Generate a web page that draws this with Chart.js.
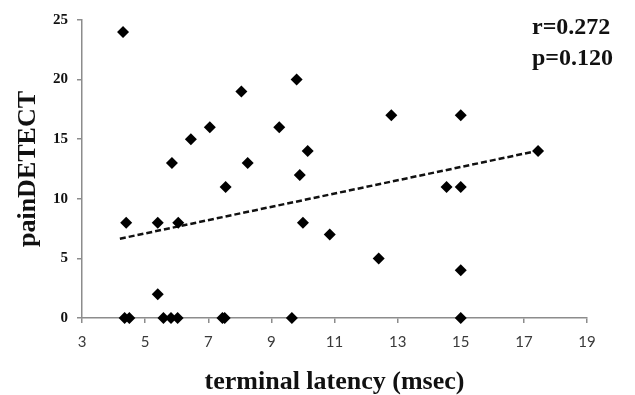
<!DOCTYPE html>
<html>
<head>
<meta charset="utf-8">
<script src="https://cdn.jsdelivr.net/npm/chart.js@4"></script>
<style>
  html, body { margin: 0; padding: 0; background: #fff; }
  #wrap { width: 635px; height: 395px; position: relative; }
</style>
</head>
<body>
<div id="wrap"><canvas id="c" width="635" height="395"></canvas></div>
<script>
// terminal latency (msec)
const latency = [4.3, 4.4, 4.35, 4.5, 5.4, 5.4, 5.58, 5.82, 5.85, 6.03, 6.05, 6.45, 7.05, 7.45, 7.52, 7.55, 8.05, 8.25, 9.25, 9.65, 9.8, 9.9, 10.0, 10.15, 10.85, 12.4, 12.8, 14.55, 15.0, 15.0, 15.0, 15.0, 17.45];
// painDETECT score
const painDetect = [24, 8, 0, 0, 8, 2, 0, 0, 13, 0, 8, 15, 16, 0, 0, 11, 19, 13, 16, 0, 20, 12, 8, 14, 7, 5, 17, 11, 17, 11, 4, 0, 14];
// linear trend line end points
const trendX = [4.2, 17.3];
const trendY = [6.65, 13.95];
const xTicks = [3, 5, 7, 9, 11, 13, 15, 17, 19];
const yTicks = [0, 5, 10, 15, 20, 25];
const statsText = ['r=0.272', 'p=0.120'];

const points = latency.map((x, i) => ({ x: x, y: painDetect[i] }));
const trend = trendX.map((x, i) => ({ x: x, y: trendY[i] }));

const statsPlugin = {
  id: 'stats',
  afterDraw(chart) {
    const ctx = chart.ctx;
    ctx.save();
    ctx.font = 'bold 24px "Liberation Serif"';
    ctx.fillStyle = '#111';
    ctx.textBaseline = 'alphabetic';
    ctx.textAlign = 'left';
    ctx.fillText(statsText[0], 532, 34);
    ctx.fillText(statsText[1], 532, 65);
    ctx.restore();
  }
};

new Chart(document.getElementById('c'), {
  type: 'scatter',
  data: {
    datasets: [
      {
        label: 'patients',
        data: points,
        pointStyle: 'rectRot',
        pointRadius: 6,
        pointHoverRadius: 6,
        backgroundColor: '#000',
        borderColor: '#000',
        borderWidth: 0,
        clip: false,
        order: 0
      },
      {
        type: 'line',
        label: 'trend',
        data: trend,
        borderColor: '#111',
        borderWidth: 2.5,
        borderDash: [6, 3],
        pointRadius: 0,
        fill: false,
        order: 1
      }
    ]
  },
  options: {
    responsive: false,
    animation: false,
    events: [],
    layout: { padding: { left: 0, right: 48, top: 20, bottom: 0 } },
    plugins: { legend: { display: false }, tooltip: { enabled: false } },
    scales: {
      x: {
        type: 'linear',
        min: 3, max: 19,
        afterBuildTicks(scale) { scale.ticks = xTicks.map(v => ({ value: v })); },
        afterFit(scale) { scale.height = 77; },
        grid: { drawOnChartArea: false, drawTicks: true, tickLength: 5, color: '#8c8c8c', lineWidth: 1.5 },
        border: { display: true, color: '#8c8c8c', width: 1.5 },
        ticks: { padding: 10, color: '#3a3a3a', font: { family: 'Lato', size: 15 } },
        title: {
          display: true,
          text: 'terminal latency (msec)',
          color: '#111',
          font: { family: 'Liberation Serif', size: 26, weight: 'bold', lineHeight: 1 },
          padding: { top: 0, bottom: 0 }
        }
      },
      y: {
        type: 'linear',
        min: 0, max: 25,
        afterBuildTicks(scale) { scale.ticks = yTicks.map(v => ({ value: v })); },
        afterFit(scale) { scale.width = 82; },
        grid: { drawOnChartArea: false, drawTicks: true, tickLength: 5, color: '#8c8c8c', lineWidth: 1.5 },
        border: { display: true, color: '#8c8c8c', width: 1.5 },
        ticks: { padding: 9, color: '#111', font: { family: 'Liberation Serif', size: 15, weight: 'bold' } },
        title: {
          display: true,
          text: 'painDETECT',
          color: '#111',
          font: { family: 'Liberation Serif', size: 26, weight: 'bold', lineHeight: 1 },
          padding: { top: 15, bottom: 0 }
        }
      }
    }
  },
  plugins: [statsPlugin]
});
</script>
</body>
</html>
